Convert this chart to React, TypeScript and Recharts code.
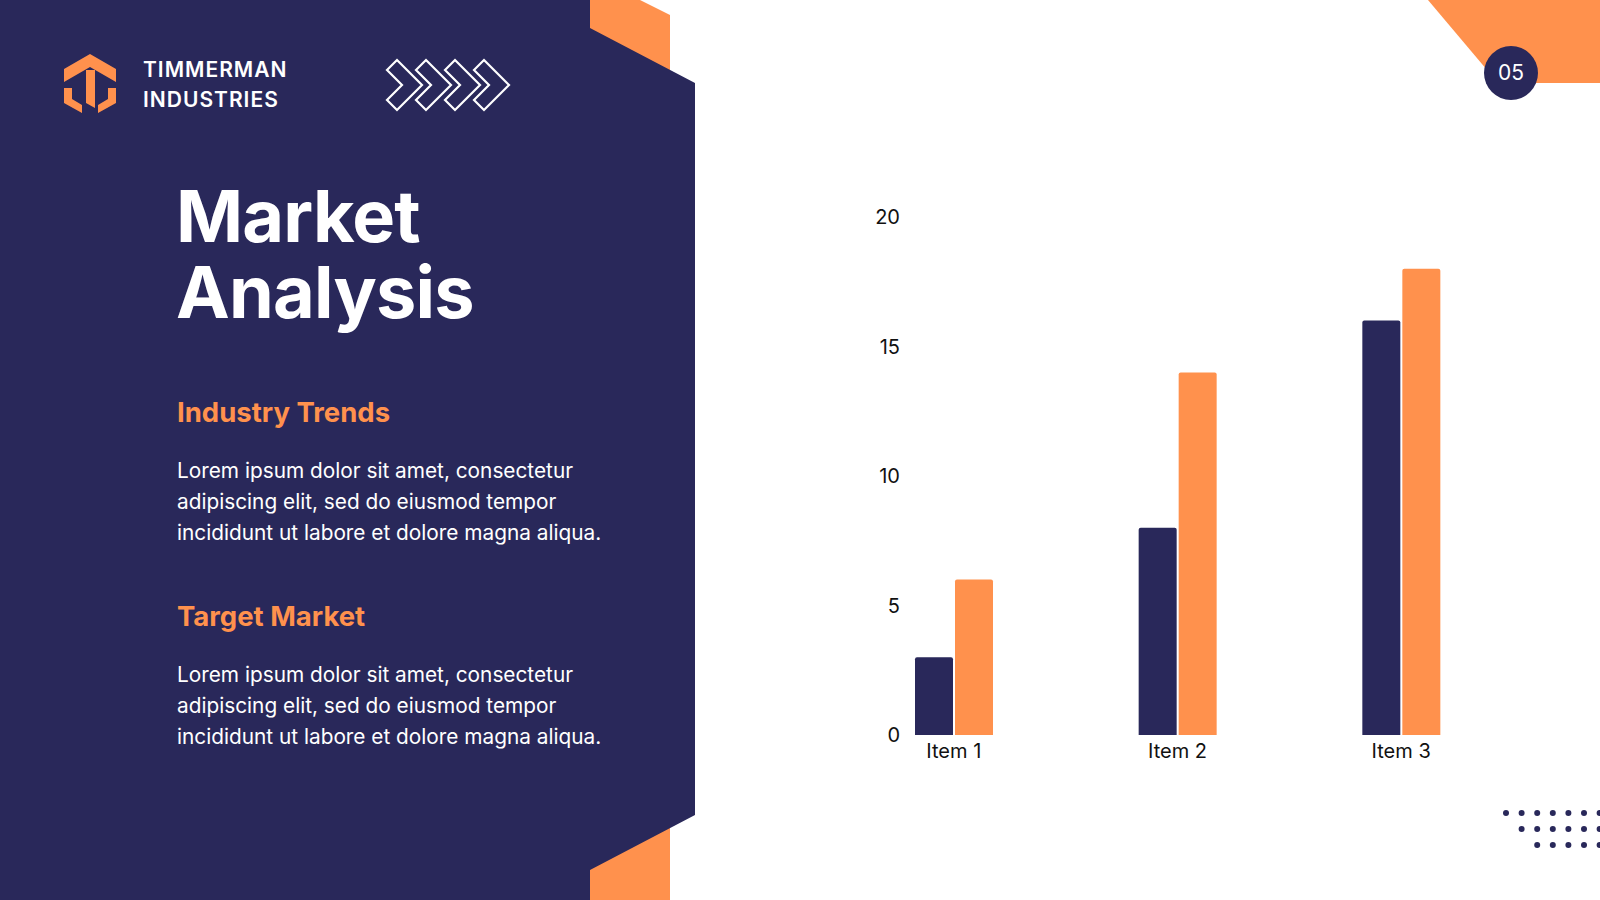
import React from 'react';
import { BarChart, Bar, XAxis, YAxis } from 'recharts';

const NAVY = '#29285a';
const ORANGE = '#ff914d';

const items = ['Item 1', 'Item 2', 'Item 3'];
const seriesA = [3, 8, 16];
const seriesB = [6, 14, 18];
const yTicks = [0, 5, 10, 15, 20];

const body = [
  'Lorem ipsum dolor sit amet, consectetur',
  'adipiscing elit, sed do eiusmod tempor',
  'incididunt ut labore et dolore magna aliqua.',
];

const data = items.map((name, i) => ({ name, a: seriesA[i], b: seriesB[i] }));

const font = 'Inter, "Open Sans", sans-serif';

function YTick({ x, y, payload }: any) {
  return (
    <text x={x + 58} y={y} dy="0.355em" textAnchor="end" fontSize={20} fill="#111" fontFamily={font}>
      {payload.value}
    </text>
  );
}

function Chevrons() {
  const offs = [0, 29, 58, 87];
  return (
    <g fill="none" stroke="#fff" strokeWidth={2.2} strokeLinejoin="miter">
      {offs.map(o => (
        <polygon
          key={o}
          points={`${387 + o},70 ${397 + o},60 ${422 + o},85 ${397 + o},110 ${387 + o},100 ${402 + o},85`}
        />
      ))}
    </g>
  );
}

function Dots() {
  const rows = [0, 1, 2];
  const cols = [0, 1, 2, 3, 4, 5, 6];
  return (
    <g fill={NAVY}>
      {rows.map(r =>
        cols.slice(r).map(c => (
          <circle key={`${r}-${c}`} cx={1506 + c * 15.6} cy={813 + r * 16} r={3} />
        ))
      )}
    </g>
  );
}

export default function App() {
  return (
    <div style={{ position: 'absolute', left: 0, top: 0, width: 1600, height: 900, background: '#fff', overflow: 'hidden' }}>
      <svg width={1600} height={900} style={{ position: 'absolute', left: 0, top: 0 }}>
        {/* orange tabs behind the panel */}
        <polygon points="590,0 640,0 670,15 670,120 590,120" fill={ORANGE} />
        <polygon points="590,780 670,780 670,900 590,900" fill={ORANGE} />
        <polygon points="0,0 590,0 590,28 695,83 695,815 590,870 590,900 0,900" fill={NAVY} />

        {/* top right corner */}
        <polygon points="1428,0 1600,0 1600,83 1498,83" fill={ORANGE} />
        <circle cx={1511} cy={73} r={27} fill={NAVY} />
        <text x={1511} y={80} textAnchor="middle" fontSize={21} fill="#fff" fontFamily={font}>05</text>

        <Dots />

        {/* logo */}
        <g fill={ORANGE}>
          <polygon points="64,69 90,54 116,69 116,82 90,67 64,82" />
          <polygon points="86,70 95,70 95,108 86,103" />
          <polygon points="64,88 72,88 72,99 82,105 82,113 64,103" />
          <polygon points="116,88 108,88 108,99 98,105 98,113 116,103" />
        </g>
        <g fill="#fff" fontFamily={font} fontWeight={600} fontSize={21} letterSpacing={1}>
          <text x={143} y={77}>TIMMERMAN</text>
          <text x={143} y={107}>INDUSTRIES</text>
        </g>
        <Chevrons />

        <g fill="#fff" fontFamily={font} fontWeight={700} fontSize={72} letterSpacing={-0.8}>
          <text x={176} y={242}>Market</text>
          <text x={176} y={318}>Analysis</text>
        </g>

        <g fontFamily={font}>
          <text x={177} y={422} fontSize={27.5} fontWeight={700} fill={ORANGE}>Industry Trends</text>
          {body.map((l, i) => (
            <text key={'a' + i} x={177} y={478 + i * 31} fontSize={20.8} fill="#fff">{l}</text>
          ))}
          <text x={177} y={626} fontSize={27.5} fontWeight={700} fill={ORANGE}>Target Market</text>
          {body.map((l, i) => (
            <text key={'b' + i} x={177} y={682 + i * 31} fontSize={20.8} fill="#fff">{l}</text>
          ))}
        </g>
      </svg>

      <div style={{ position: 'absolute', left: 780, top: 180 }}>
        <BarChart width={760} height={620} data={data} margin={{ top: 37, right: 27, bottom: 35, left: 0 }} barSize={38} barGap={2}>
          <XAxis
            dataKey="name"
            axisLine={false}
            tickLine={false}
            tickSize={0}
            tickMargin={9}
            tick={{ fontSize: 20, fill: '#111', fontFamily: font }}
          />
          <YAxis
            width={62}
            domain={[0, 20]}
            ticks={yTicks}
            axisLine={false}
            tickLine={false}
            tickSize={0}
            tickMargin={0}
            tick={<YTick />}
          />
          <Bar dataKey="a" fill={NAVY} radius={[2, 2, 0, 0]} isAnimationActive={false} />
          <Bar dataKey="b" fill={ORANGE} radius={[2, 2, 0, 0]} isAnimationActive={false} />
        </BarChart>
      </div>
    </div>
  );
}
